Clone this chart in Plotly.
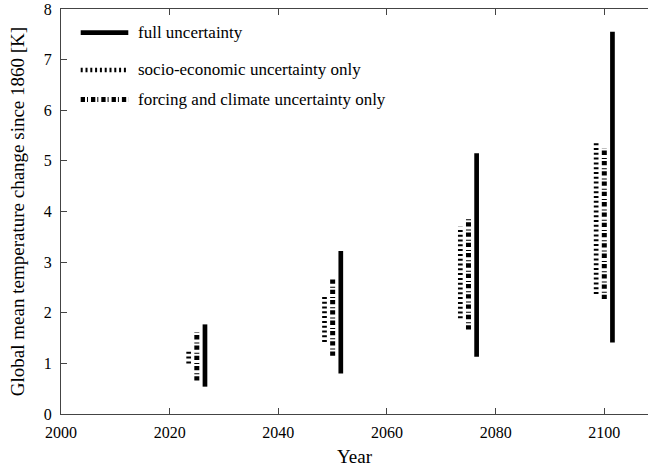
import plotly.graph_objects as go

# ---- data ----
years = [2025, 2050, 2075, 2100]
full_low = [0.54, 0.80, 1.13, 1.41]
full_high = [1.77, 3.22, 5.15, 7.55]
socio_low = [1.00, 1.42, 1.89, 2.37]
socio_high = [1.23, 2.32, 3.70, 5.38]
forcing_low = [0.66, 1.15, 1.67, 2.27]
forcing_high = [1.61, 2.66, 3.89, 5.25]
x_ticks = [2000, 2020, 2040, 2060, 2080, 2100]
y_ticks = [0, 1, 2, 3, 4, 5, 6, 7, 8]
legend_labels = ["full uncertainty", "socio-economic uncertainty only",
                 "forcing and climate uncertainty only"]

FONT = "Liberation Serif, Times New Roman, Times, serif"
offset = {"full": 1.5, "socio": -1.5, "forcing": 0.0}


def segs(xs, lo, hi, off):
    X, Y = [], []
    for x, a, b in zip(xs, lo, hi):
        X += [x + off, x + off, None]
        Y += [a, b, None]
    return X, Y


styles = {
    "full": dict(color="black", width=4.7, dash="solid"),
    "socio": dict(color="black", width=4.7, dash="2px,2.8px"),
    "forcing": dict(color="black", width=5, dash="4.3px,2px,1px,3px"),
}

fig = go.Figure()
for key, lo, hi in [("socio", socio_low, socio_high),
                    ("forcing", forcing_low, forcing_high),
                    ("full", full_low, full_high)]:
    X, Y = segs(years, lo, hi, offset[key])
    fig.add_trace(go.Scatter(x=X, y=Y, mode="lines", line=styles[key],
                             showlegend=False, hoverinfo="skip"))

# manual legend (paper coords)
W, H, L, T, B, R = 649, 472, 61, 9, 58, 1
pw, ph = W - L - R, H - T - B


def px_x(p):
    return (p - L) / pw


def px_y(p):
    return (H - B - p) / ph


rows = [32.7, 70.0, 99.5]
for lab, key, ry in zip(legend_labels, ["full", "socio", "forcing"], rows):
    st = styles[key]
    fig.add_shape(type="line", xref="paper", yref="paper",
                  x0=px_x(80.7), x1=px_x(128.3), y0=px_y(ry), y1=px_y(ry),
                  line=dict(color=st["color"], width=st["width"], dash=st["dash"]))
    fig.add_annotation(xref="paper", yref="paper", x=px_x(136), y=px_y(ry),
                       xanchor="left", yanchor="middle", text=lab, showarrow=False,
                       font=dict(family=FONT, size=17, color="black"))

fig.update_layout(
    width=W, height=H,
    margin=dict(l=L, r=R, t=T, b=B, autoexpand=False),
    paper_bgcolor="white", plot_bgcolor="white",
    font=dict(family=FONT, size=16, color="black"),
    showlegend=False,
)
fig.update_xaxes(range=[2000, 2000 + pw / 5.433], tickvals=x_ticks,
                 ticks="inside", ticklen=6, tickcolor="#444", showline=True,
                 linecolor="#444", linewidth=1, mirror="ticks", showgrid=False,
                 zeroline=False, automargin=False, ticklabelstandoff=4,
                 title=dict(text="Year", standoff=9, font=dict(family=FONT, size=19)),
                 tickfont=dict(family=FONT, size=16))
fig.update_yaxes(range=[0, 8], tickvals=y_ticks, ticks="inside", ticklen=6,
                 tickcolor="#444", showline=True, linecolor="#444", linewidth=1,
                 showgrid=False, zeroline=False, automargin=False,
                 ticklabelstandoff=5,
                 title=dict(text="Global mean temperature change since 1860 [K]",
                            standoff=14, font=dict(family=FONT, size=19)),
                 tickfont=dict(family=FONT, size=16))

fig.write_html("out.html", config={"displayModeBar": False},
               post_script="document.body.style.margin='0';")
